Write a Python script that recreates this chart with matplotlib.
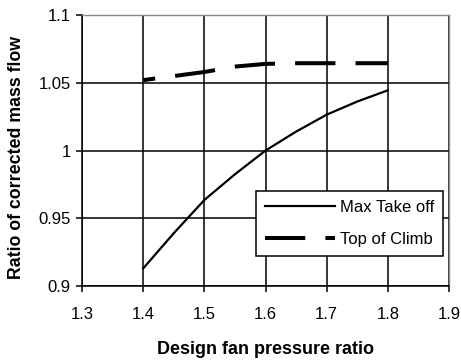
import matplotlib
matplotlib.use("Agg")
import matplotlib.pyplot as plt

plt.rcParams['font.family'] = ['Liberation Sans', 'DejaVu Sans']

# design fan pressure ratio
fpr = [1.40, 1.45, 1.50, 1.55, 1.60, 1.65, 1.70, 1.75, 1.80]
# ratio of corrected mass flow
take_off = [0.913, 0.939, 0.9635, 0.9825, 1.000, 1.014, 1.0265, 1.0362, 1.0445]
top_climb = [1.052, 1.055, 1.058, 1.062, 1.064, 1.0645, 1.0645, 1.0645, 1.0645]

xticks = [1.3, 1.4, 1.5, 1.6, 1.7, 1.8, 1.9]
yticks = [0.9, 0.95, 1.0, 1.05, 1.1]
yticklabels = ['0.9', '0.95', '1', '1.05', '1.1']

fig = plt.figure(figsize=(4.61, 3.6), dpi=100)
ax = fig.add_axes([0.178, 0.2056, 0.796, 0.7524])

ax.plot(fpr, take_off, color='black', lw=1.6, label='Max Take off')
ax.plot(fpr, top_climb, color='black', lw=2.9,
        linestyle=(7, (10, 5)), label='Top of Climb')

ax.set_xlim(1.3, 1.9)
ax.set_ylim(0.9, 1.1)
ax.set_xticks(xticks)
ax.set_xticklabels([f'{t:.1f}' for t in xticks])
ax.set_yticks(yticks)
ax.set_yticklabels(yticklabels)
ax.grid(True, color='black', lw=1.1)
ax.set_axisbelow(True)

for side in ['left', 'bottom']:
    ax.spines[side].set_color('black')
    ax.spines[side].set_linewidth(1.1)
for side in ['top', 'right']:
    ax.spines[side].set_color('#8a8a8a')
    ax.spines[side].set_linewidth(1.0)

ax.tick_params(axis='x', direction='out', length=4, width=1.1, pad=11, labelsize=12)
ax.tick_params(axis='y', direction='out', length=4, width=1.1, pad=4, labelsize=12)

ax.set_xlabel('Design fan pressure ratio', fontsize=13, fontweight='bold', labelpad=14)
ax.set_ylabel('Ratio of corrected mass flow', fontsize=12.8, fontweight='bold')
ax.yaxis.set_label_coords(-0.155, 0.475)

leg = ax.legend(loc='lower right', bbox_to_anchor=(0.984, 0.111), borderaxespad=0,
                fancybox=False, framealpha=1, edgecolor='black', fontsize=12,
                handlelength=4.2, handletextpad=0.3, borderpad=0.55, labelspacing=1.0)
leg.get_frame().set_linewidth(1.1)
leg.get_lines()[1].set_linestyle((0, (10, 5)))

fig.savefig('out.png', dpi=100)
